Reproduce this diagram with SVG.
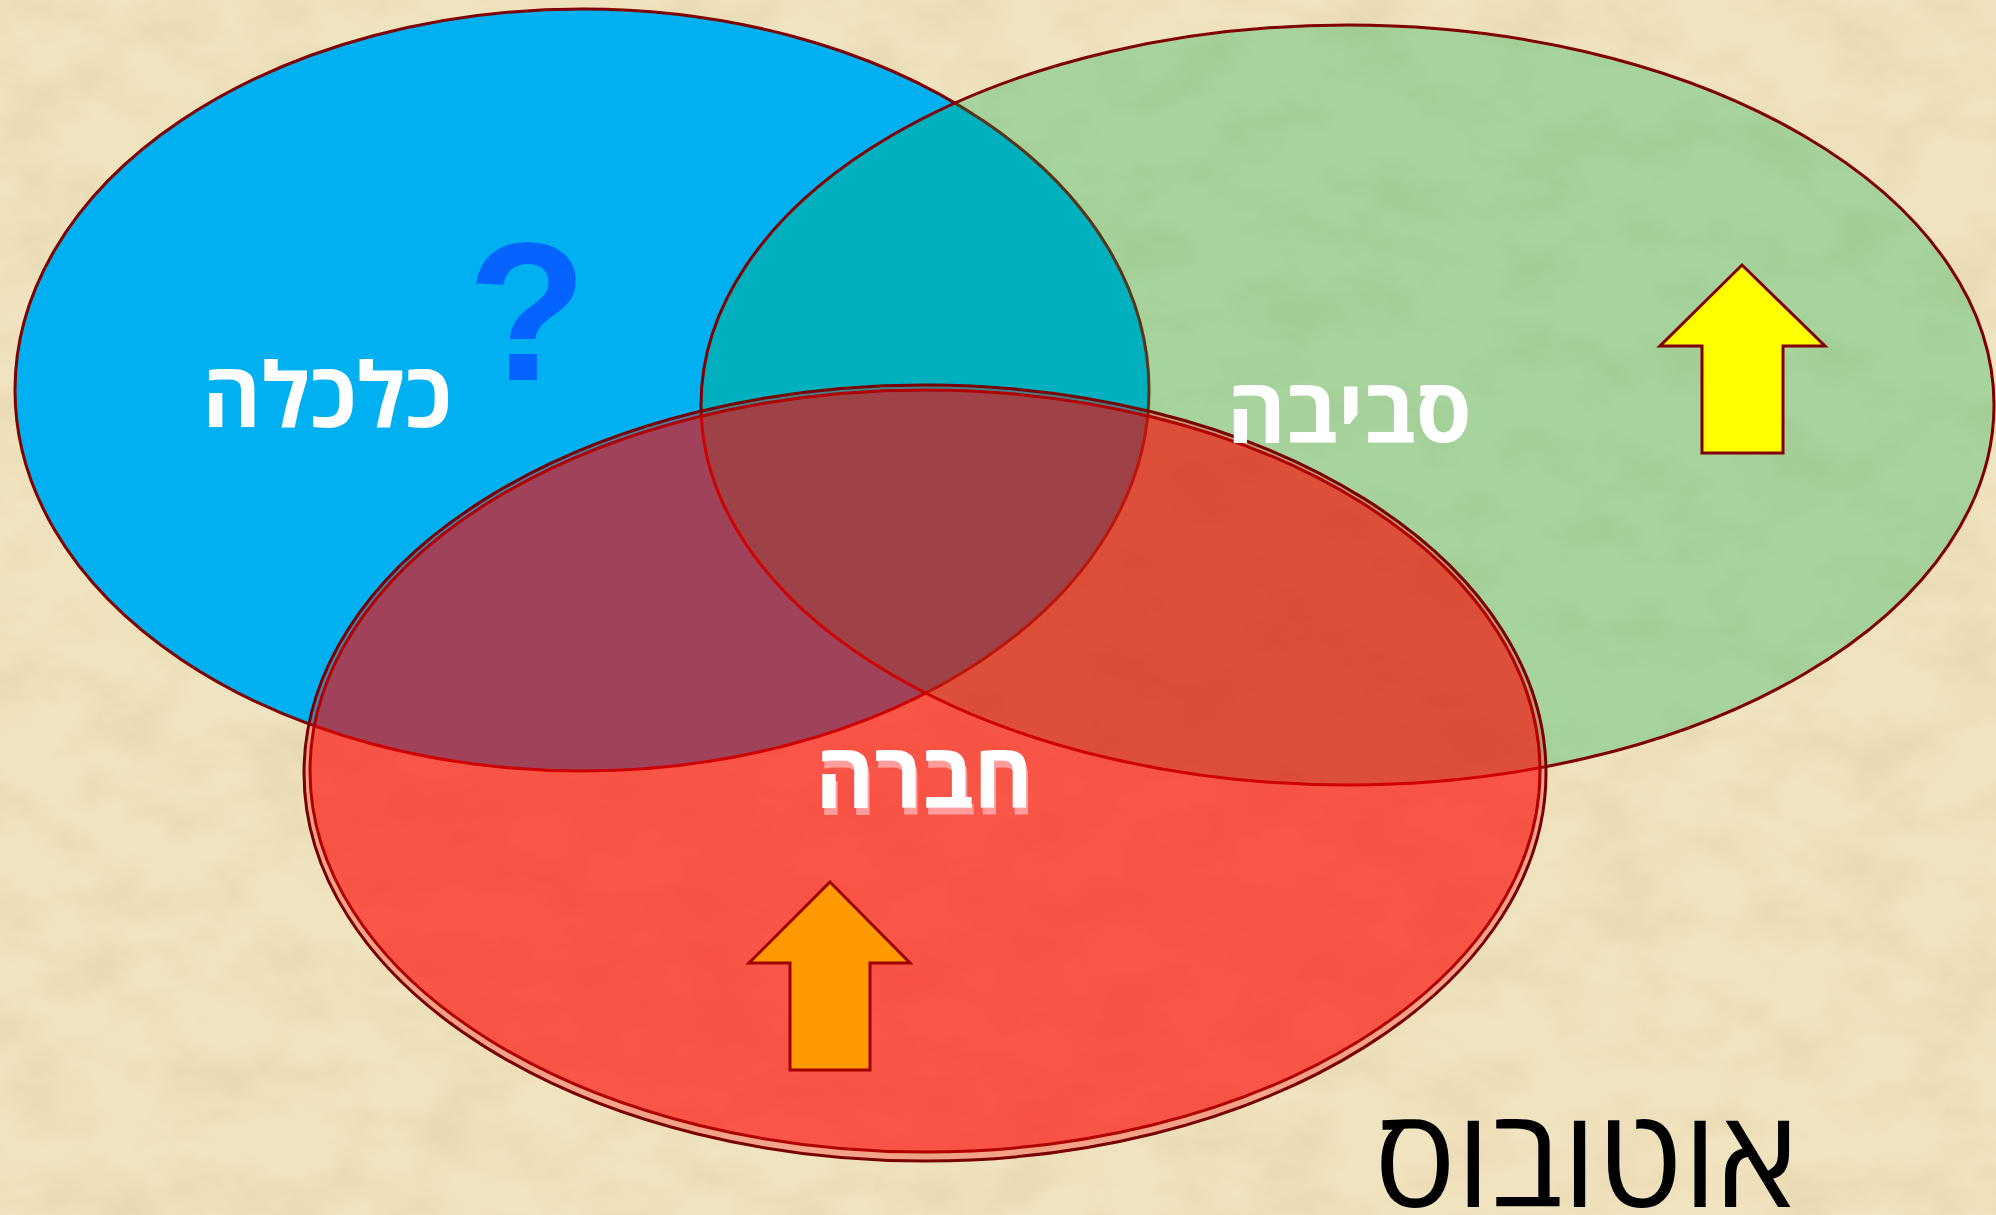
<svg xmlns="http://www.w3.org/2000/svg" width="1996" height="1215" viewBox="0 0 1996 1215">
  <defs>
    <filter id="paper" x="0" y="0" width="100%" height="100%">
      <feTurbulence type="fractalNoise" baseFrequency="0.012 0.018" numOctaves="5" seed="7"/>
      <feColorMatrix type="matrix" values="0 0 0 0 0.78  0 0 0 0 0.68  0 0 0 0 0.42  1.6 0 0 0 -0.62"/>
    </filter>
    <filter id="pinkShadow" x="-10%" y="-10%" width="120%" height="130%">
      <feFlood flood-color="#ff9c9c" result="c"/>
      <feComposite in="c" in2="SourceAlpha" operator="in" result="s"/>
      <feOffset in="s" dx="2" dy="7" result="o"/>
      <feMerge>
        <feMergeNode in="o"/>
        <feMergeNode in="SourceGraphic"/>
      </feMerge>
    </filter>
    <style>
      .lbl { font-family: "Open Sans", "DejaVu Sans", "Liberation Sans", sans-serif; font-weight: bold; text-anchor: middle; }
      .white { fill: #ffffff; }
      .outline { stroke: #800000; stroke-width: 3; }
    </style>
  </defs>

  <!-- background -->
  <rect x="0" y="0" width="1996" height="1215" fill="#f0e3bf"/>
  <rect x="0" y="0" width="1996" height="1215" filter="url(#paper)"/>

  <g id="node-economy">
    <ellipse cx="582" cy="390" rx="567" ry="381" fill="#00b0f0" class="outline"/>
  </g>

  <g id="node-environment">
    <ellipse cx="1347.5" cy="405" rx="646.5" ry="380" fill="#00b050" fill-opacity="0.3" class="outline"/>
  </g>

  <g id="node-society">
    <ellipse cx="925" cy="773" rx="621" ry="388" fill="#ff0000" fill-opacity="0.28" stroke="#7a0000" stroke-width="3"/>
    <ellipse cx="925" cy="771" rx="615" ry="381" fill="#ff0000" fill-opacity="0.48" stroke="#b00000" stroke-width="3"/>
  </g>

  <g id="connectors"></g>

  <g id="label-economy">
    <text class="lbl white" x="327" y="427" font-size="90">כלכלה</text>
    <text x="527" y="380" font-family="Liberation Sans, Arial, sans-serif" font-weight="bold" font-size="196" text-anchor="middle" fill="#0563ff">?</text>
  </g>

  <g id="label-environment">
    <text class="lbl white" x="1349" y="443" font-size="90">סביבה</text>
    <polygon id="arrow-environment" points="1742,265 1825,346 1783,346 1783,453 1702,453 1702,346 1660,346" fill="#ffff00" stroke="#800000" stroke-width="3"/>
  </g>

  <g id="label-society">
    <text class="lbl white" x="924" y="808" font-size="90" filter="url(#pinkShadow)">חברה</text>
    <polygon id="arrow-society" points="830,882 910,963 870,963 870,1070 790,1070 790,963 749,963" fill="#ff9900" stroke="#a00000" stroke-width="3"/>
  </g>

  <g id="label-bus">
    <text x="1586" y="1207" font-family="Open Sans, Liberation Sans, Arial, sans-serif" font-size="137" text-anchor="middle" fill="#000000">אוטובוס</text>
  </g>
</svg>
